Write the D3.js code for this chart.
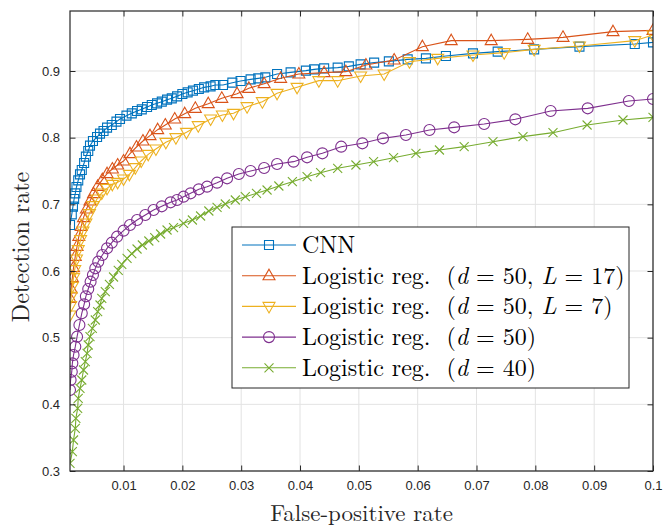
<!DOCTYPE html>
<html>
<head>
<meta charset="utf-8">
<script src="https://cdn.jsdelivr.net/npm/d3@7"></script>
<style>
  body { margin: 0; background: #fff; }
  svg { display: block; }
</style>
</head>
<body>
<svg width="664" height="527"></svg>
<script>
// ROC curves: false-positive rate vs detection rate
var cnnX = [0.0009,0.0012,0.0014,0.0016,0.0018,0.002,0.0023,0.0026,0.0029,0.0033,0.0036,0.004,0.0043,0.0048,0.0055,0.006,0.0066,0.0072,0.008,0.0088,0.0094,0.0105,0.0114,0.0123,0.0131,0.014,0.0148,0.0157,0.0165,0.0174,0.0182,0.0191,0.02,0.0209,0.0218,0.0228,0.0237,0.0248,0.0256,0.0269,0.0285,0.0299,0.0316,0.0329,0.0341,0.0361,0.0384,0.041,0.0424,0.0441,0.0464,0.0483,0.0503,0.0526,0.0551,0.0583,0.0614,0.0648,0.0694,0.0736,0.0798,0.0875,0.0969,0.1];
var cnnY = [0.669,0.685,0.6965,0.708,0.7165,0.726,0.736,0.745,0.7515,0.762,0.7715,0.78,0.788,0.795,0.801,0.806,0.81,0.815,0.819,0.824,0.828,0.833,0.8365,0.84,0.8425,0.846,0.849,0.8515,0.854,0.857,0.859,0.862,0.8655,0.868,0.8705,0.873,0.8755,0.877,0.879,0.879,0.8825,0.885,0.8875,0.889,0.8905,0.8955,0.898,0.9005,0.9025,0.904,0.905,0.907,0.91,0.9125,0.9145,0.9175,0.919,0.9225,0.9265,0.929,0.9325,0.9365,0.9405,0.943];

var l17X = [0.0009,0.0011,0.0013,0.0015,0.0018,0.0021,0.0024,0.0028,0.0032,0.0037,0.0043,0.0049,0.0056,0.0064,0.0072,0.0081,0.009,0.01,0.0111,0.0122,0.0133,0.0145,0.0158,0.0171,0.0187,0.0204,0.0222,0.0244,0.0267,0.0293,0.0313,0.0339,0.0367,0.0398,0.0441,0.0478,0.0512,0.056,0.0608,0.0657,0.0725,0.0787,0.0847,0.0932,0.1];
var l17Y = [0.559,0.573,0.59,0.605,0.622,0.637,0.652,0.667,0.68,0.693,0.705,0.716,0.727,0.737,0.746,0.753,0.759,0.765,0.776,0.786,0.795,0.803,0.812,0.819,0.828,0.836,0.844,0.851,0.859,0.866,0.874,0.881,0.889,0.8955,0.8975,0.899,0.909,0.9165,0.9365,0.9455,0.9455,0.9475,0.9505,0.959,0.961];

var l7X = [0.0009,0.001,0.0011,0.0013,0.0015,0.0017,0.002,0.0023,0.0027,0.0031,0.0036,0.0042,0.0048,0.0055,0.0063,0.0072,0.0081,0.009,0.01,0.011,0.012,0.013,0.0142,0.0155,0.0172,0.0189,0.0207,0.0227,0.0248,0.0268,0.0287,0.031,0.0336,0.0361,0.0395,0.0432,0.0464,0.0503,0.0543,0.0586,0.0634,0.0694,0.0747,0.0798,0.0875,0.0969,0.1];
var l7Y = [0.534,0.548,0.562,0.577,0.59,0.602,0.618,0.632,0.647,0.66,0.672,0.686,0.698,0.708,0.717,0.724,0.73,0.733,0.738,0.745,0.755,0.765,0.775,0.783,0.793,0.8,0.808,0.818,0.828,0.834,0.8365,0.8465,0.854,0.8665,0.8755,0.8855,0.8855,0.8925,0.8955,0.914,0.919,0.924,0.9275,0.9325,0.9375,0.9455,0.954];

var d50X = [0.0009,0.001,0.0012,0.0013,0.0015,0.0018,0.0021,0.0025,0.0029,0.0033,0.0036,0.004,0.0044,0.0048,0.0052,0.0057,0.0064,0.0072,0.008,0.0089,0.01,0.0111,0.0123,0.0137,0.0151,0.0165,0.018,0.0191,0.0202,0.0214,0.0228,0.0242,0.0259,0.0276,0.0296,0.0316,0.0339,0.0361,0.0389,0.0412,0.0438,0.047,0.0506,0.0541,0.058,0.062,0.0662,0.0713,0.0766,0.0826,0.0889,0.0959,0.1];
var d50Y = [0.4215,0.4365,0.449,0.4615,0.474,0.4865,0.5015,0.519,0.5365,0.55,0.562,0.573,0.584,0.594,0.604,0.614,0.624,0.634,0.6425,0.6515,0.6605,0.669,0.6765,0.684,0.6915,0.697,0.703,0.7065,0.7115,0.7165,0.7225,0.7265,0.7325,0.739,0.7455,0.75,0.7545,0.7605,0.764,0.7705,0.7765,0.7865,0.7915,0.799,0.804,0.8115,0.8155,0.8205,0.8275,0.84,0.844,0.855,0.858];

var d40X = [0.0009,0.0013,0.0015,0.0018,0.0019,0.0022,0.0023,0.0026,0.0029,0.0032,0.0035,0.0038,0.004,0.0043,0.0047,0.0052,0.0056,0.006,0.0063,0.0069,0.0076,0.0083,0.0091,0.0097,0.0106,0.0114,0.0123,0.0132,0.0143,0.0153,0.0163,0.0174,0.0185,0.0202,0.0217,0.0231,0.0245,0.0259,0.0273,0.029,0.0307,0.0326,0.0344,0.0364,0.0387,0.0412,0.0435,0.0464,0.0495,0.0525,0.0559,0.0597,0.0637,0.0679,0.0728,0.0779,0.083,0.0888,0.0949,0.1];
var d40Y = [0.3115,0.329,0.3465,0.364,0.379,0.394,0.409,0.424,0.4365,0.4515,0.464,0.4765,0.489,0.5015,0.514,0.5265,0.539,0.549,0.559,0.569,0.58,0.591,0.601,0.61,0.619,0.626,0.633,0.639,0.645,0.65,0.6555,0.6615,0.665,0.6715,0.6765,0.6825,0.69,0.6955,0.7005,0.7065,0.7115,0.7165,0.7215,0.7275,0.734,0.7415,0.7475,0.754,0.759,0.764,0.77,0.7765,0.7815,0.7865,0.794,0.8015,0.8075,0.819,0.8265,0.8305];

var xTicks = [0.01,0.02,0.03,0.04,0.05,0.06,0.07,0.08,0.09,0.1];
var yTicks = [0.3,0.4,0.5,0.6,0.7,0.8,0.9];

var series = [
  { name: "CNN", xs: cnnX, ys: cnnY, color: "#0072BD", marker: "square" },
  { name: "L17", xs: l17X, ys: l17Y, color: "#D95319", marker: "up" },
  { name: "L7",  xs: l7X,  ys: l7Y,  color: "#EDB120", marker: "down" },
  { name: "d50", xs: d50X, ys: d50Y, color: "#7E2F8E", marker: "circle" },
  { name: "d40", xs: d40X, ys: d40Y, color: "#77AC30", marker: "x" }
];

var svg = d3.select("svg");
var pLeft = 70, pRight = 653, pTop = 11, pBottom = 471;

var x = d3.scaleLinear().domain([0.0009, 0.1]).range([pLeft, pRight]);
var y = d3.scaleLinear().domain([0.3, 0.99]).range([pBottom, pTop]);

// markers drawn around (0,0)
function markerPath(type) {
  var p = d3.path();
  if (type == "square") { p.rect(-4.5, -4.5, 9, 9); }
  else if (type == "up") { p.moveTo(0, -6.5); p.lineTo(6, 4); p.lineTo(-6, 4); p.closePath(); }
  else if (type == "down") { p.moveTo(0, 6.5); p.lineTo(6, -4); p.lineTo(-6, -4); p.closePath(); }
  else if (type == "circle") { p.moveTo(5.5, 0); p.arc(0, 0, 5.5, 0, 2 * Math.PI); }
  else { p.moveTo(-4.5, -4.5); p.lineTo(4.5, 4.5); p.moveTo(-4.5, 4.5); p.lineTo(4.5, -4.5); }
  return p.toString();
}

// grid
svg.append("g").selectAll("line").data(xTicks).join("line")
  .attr("x1", d => x(d)).attr("x2", d => x(d))
  .attr("y1", pTop).attr("y2", pBottom)
  .attr("stroke", "#e3e3e3").attr("stroke-width", 1);
svg.append("g").selectAll("line").data(yTicks).join("line")
  .attr("x1", pLeft).attr("x2", pRight)
  .attr("y1", d => y(d)).attr("y2", d => y(d))
  .attr("stroke", "#e3e3e3").attr("stroke-width", 1);

// curves
svg.append("clipPath").attr("id", "plotclip")
  .append("rect").attr("x", pLeft).attr("y", pTop).attr("width", pRight - pLeft).attr("height", pBottom - pTop);

var plot = svg.append("g").attr("clip-path", "url(#plotclip)");
var line = d3.line().x(d => x(d[0])).y(d => y(d[1]));

series.forEach(function(s) {
  var pts = s.xs.map(function(v, i) { return [v, s.ys[i]]; });
  var g = plot.append("g");
  g.append("path").datum(pts)
    .attr("d", line)
    .attr("fill", "none")
    .attr("stroke", s.color)
    .attr("stroke-width", 1.1);
  g.selectAll("path.m").data(pts).join("path")
    .attr("class", "m")
    .attr("transform", d => "translate(" + x(d[0]) + "," + y(d[1]) + ")")
    .attr("d", markerPath(s.marker))
    .attr("fill", "none")
    .attr("stroke", s.color)
    .attr("stroke-width", 1.1);
});

// box + ticks on all four sides
var axisColor = "#262626";
var xAxisB = d3.axisBottom(x).tickValues(xTicks).tickSize(-5.5).tickFormat(d3.format(".2~f")).tickPadding(10);
var xAxisT = d3.axisTop(x).tickValues(xTicks).tickSize(-5.5).tickFormat("");
var yAxisL = d3.axisLeft(y).tickValues(yTicks).tickSize(-5.5).tickFormat(d3.format(".1f")).tickPadding(10);
var yAxisR = d3.axisRight(y).tickValues(yTicks).tickSize(-5.5).tickFormat("");

function styleAxis(g) {
  g.select(".domain").remove();
  g.selectAll("line").attr("stroke", axisColor).attr("stroke-width", 1);
  g.selectAll("text").attr("fill", "#262626")
    .style("font-family", "'Liberation Sans', Arial, sans-serif").style("font-size", "13px");
}
svg.append("g").attr("transform", "translate(0," + pBottom + ")").call(xAxisB).call(styleAxis);
svg.append("g").attr("transform", "translate(0," + pTop + ")").call(xAxisT).call(styleAxis);
svg.append("g").attr("transform", "translate(" + pLeft + ",0)").call(yAxisL).call(styleAxis);
svg.append("g").attr("transform", "translate(" + pRight + ",0)").call(yAxisR).call(styleAxis);

svg.append("rect")
  .attr("x", pLeft).attr("y", pTop).attr("width", pRight - pLeft).attr("height", pBottom - pTop)
  .attr("fill", "none").attr("stroke", axisColor).attr("stroke-width", 1.2);

// axis titles
var serif = "'Latin Modern Roman', 'CMU Serif', 'Liberation Serif', 'DejaVu Serif', serif";
svg.append("text")
  .attr("x", (pLeft + pRight) / 2).attr("y", 521)
  .attr("text-anchor", "middle")
  .style("font-family", serif).style("font-size", "23px").attr("fill", "#262626")
  .text("False-positive rate");
svg.append("text")
  .attr("transform", "translate(29," + ((pTop + pBottom) / 2 + 6) + ") rotate(-90)")
  .attr("text-anchor", "middle")
  .style("font-family", serif).style("font-size", "24px").attr("fill", "#262626")
  .text("Detection rate");

// legend
var legendLabels = [
  [["CNN", false]],
  [["Logistic reg.  (", false], ["d", true], [" = 50, ", false], ["L", true], [" = 17)", false]],
  [["Logistic reg.  (", false], ["d", true], [" = 50, ", false], ["L", true], [" = 7)", false]],
  [["Logistic reg.  (", false], ["d", true], [" = 50)", false]],
  [["Logistic reg.  (", false], ["d", true], [" = 40)", false]]
];

var lg = svg.append("g").attr("transform", "translate(232,227)");
lg.append("rect").attr("width", 397).attr("height", 161)
  .attr("fill", "#fff").attr("stroke", axisColor).attr("stroke-width", 1);

series.forEach(function(s, i) {
  var ry = 18 + i * 30.7;
  var row = lg.append("g").attr("transform", "translate(0," + ry + ")");
  row.append("line").attr("x1", 10).attr("x2", 64).attr("y1", 0).attr("y2", 0)
    .attr("stroke", s.color).attr("stroke-width", 1.1);
  row.append("path").attr("transform", "translate(37,0)").attr("d", markerPath(s.marker))
    .attr("fill", "none").attr("stroke", s.color).attr("stroke-width", 1.1);
  var t = row.append("text").attr("x", 70).attr("y", 8)
    .style("font-family", serif).style("font-size", "24px").attr("fill", "#000")
    .attr("xml:space", "preserve").style("white-space", "pre");
  legendLabels[i].forEach(function(part) {
    t.append("tspan").text(part[0]).style("font-style", part[1] ? "italic" : "normal");
  });
});
</script>
</body>
</html>
